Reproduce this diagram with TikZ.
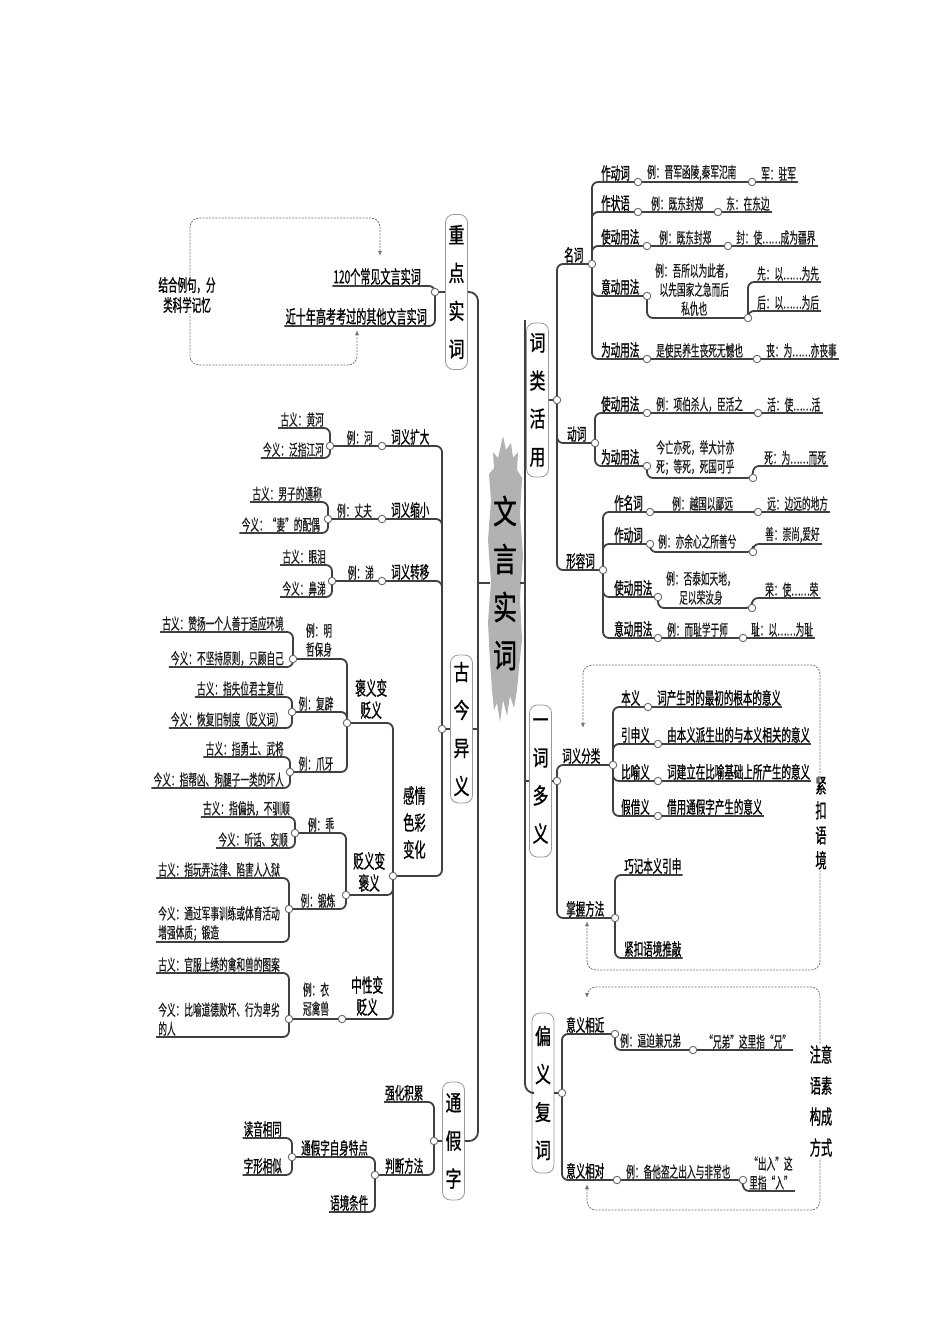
\documentclass[tikz,border=0pt]{standalone}
\usepackage{fontspec}
\setmainfont{Noto Sans CJK SC}
\newfontfamily\lblfont[FakeStretch=0.56, FakeBold=0.8]{Noto Sans CJK SC}
\newfontfamily\egfont[FakeStretch=0.56, FakeBold=0.4]{Noto Sans CJK SC}
\newfontfamily\bigfont[FakeStretch=0.72, FakeBold=1]{Noto Sans CJK SC}
\usetikzlibrary{arrows.meta}
\tikzset{
    ln/.style={draw=black!75, line width=1.8pt, rounded corners=6pt},
    dot/.style={circle, draw=black!60, fill=white, line width=0.9pt, inner sep=0pt, minimum size=7.5pt},
    lbl/.style={font=\lblfont\fontsize{17}{20}\selectfont, inner sep=1pt, anchor=south west},
    lblr/.style={lbl, anchor=south east},
    eg/.style={font=\egfont\fontsize{15.5}{19}\selectfont, inner sep=1pt, inner xsep=2pt, anchor=south west, align=center, text=black!90},
    egr/.style={eg, anchor=south east},
    egc/.style={eg, anchor=south},
    twoln/.style={font=\lblfont\fontsize{19}{22}\selectfont, inner sep=1pt, anchor=south west, align=center},
    catbox/.style={draw=black!40, line width=0.8pt, rounded corners=8pt, fill=white, minimum width=22pt, inner sep=0pt, font=\bigfont\fontsize{22}{38}\selectfont, align=center},
    hint/.style={fill=white, inner sep=1.5pt, align=center, font=\lblfont\fontsize{20}{25}\selectfont},
    lp/.style={draw=black!55, line width=0.8pt, dash pattern=on 2pt off 1.2pt, rounded corners=9pt, {Latex[length=5pt,width=4pt]}-{Latex[length=5pt,width=4pt]}},
}
\begin{document}
\begin{tikzpicture}[x=1pt, y=-1pt]
\useasboundingbox (0,0) rectangle (950,1344);
% brush behind the title
\fill[black!30] (503,436) -- (506,450) -- (511,443) -- (513,458) -- (518,452) -- (517,470) -- (522,478) -- (520,515) -- (523,555) -- (520,598) -- (522,640) -- (519,668) -- (517,690) -- (514,708) -- (510,696) -- (507,716) -- (503,700) -- (500,722) -- (497,703) -- (494,710) -- (492,690) -- (490,662) -- (488,622) -- (491,582) -- (488,540) -- (491,500) -- (489,474) -- (494,468) -- (493,452) -- (498,458) -- cycle;
\node[font=\bigfont\fontsize{33}{48}\selectfont, align=center, inner sep=0pt, minimum width=29pt] (wysc) at (505,583) {文\\言\\实\\词};

\node[catbox, minimum height=154pt] (clhy) at (537.5,400) {词\\类\\活\\用};
\node[catbox, minimum height=152pt] (ycdy) at (540.5,781) {一\\词\\多\\义};
\node[catbox, minimum height=160pt] (pyfc) at (543,1093) {偏\\义\\复\\词};
\node[catbox, minimum height=155pt] (zdsc) at (456.5,292) {重\\点\\实\\词};
\node[catbox, minimum height=148pt] (gjyy) at (461.5,729) {古\\今\\异\\义};
\node[catbox, minimum height=118pt] (tjz) at (453.5,1141) {通\\假\\字};

% trunks
\coordinate (lt) at (478,700);
\coordinate (rt) at (525,320);
\draw[ln, rounded corners=9pt] (zdsc.east) -| (lt) |- (tjz.east);
\draw[ln] (gjyy.east) -- (gjyy.east -| lt);
\draw[ln] (wysc.west) -- (wysc.west -| lt);
\draw[ln, rounded corners=9pt] (rt) |- (pyfc.west);
\draw[ln] (wysc.east) -- (wysc.east -| rt);
\draw[ln] (ycdy.west) -- (ycdy.west -| rt);

% 词类活用
\coordinate (cL) at (557,400);
\coordinate (mc) at (592,264);
\coordinate (dc) at (595,443);
\coordinate (xrc) at (603,570);
\coordinate (n1) at (638,182);  \coordinate (n1b) at (752,182);
\coordinate (n2) at (638,212);  \coordinate (n2b) at (718,212);
\coordinate (n3) at (647,246);  \coordinate (n3b) at (728,246);
\coordinate (n4) at (647,296);  \coordinate (n4b) at (748,318);
\coordinate (n5) at (647,359);  \coordinate (n5b) at (757,359);
\coordinate (v1) at (647,413);  \coordinate (v1b) at (758,413);
\coordinate (v2) at (647,466);  \coordinate (v2b) at (753,478);
\coordinate (a1) at (650,512);  \coordinate (a1b) at (758,512);
\coordinate (a2) at (650,544);  \coordinate (a2b) at (753,552);
\coordinate (a3) at (658,597);  \coordinate (a3b) at (752,608);
\coordinate (a4) at (658,638);  \coordinate (a4b) at (743,638);

\node[lbl] (mingci) at (563,264) {名词};
\node[lbl] (zdc) at (600,182) {作动词};
\node[eg] (e1) at (645,182) {例：晋军函陵,秦军氾南};
\node[eg] (r1) at (759,182) {军：驻军};
\node[lbl] (zzy) at (600,212) {作状语};
\node[eg] (e2) at (649,212) {例：既东封郑};
\node[eg] (r2) at (724,212) {东：在东边};
\node[lbl] (sdyf) at (600,246) {使动用法};
\node[eg] (e3) at (657,246) {例：既东封郑};
\node[eg] (r3) at (734,246) {封：使……成为疆界};
\node[lbl] (ydyf) at (600,296) {意动用法};
\node[eg] (e4) at (653,317) {例：吾所以为此者，\\以先国家之急而后\\私仇也};
\node[eg] (r4) at (755,282) {先：以……为先};
\node[eg] (r5) at (755,311) {后：以……为后};
\node[lbl] (wdyf) at (600,359) {为动用法};
\node[eg] (e5) at (654,359) {是使民养生丧死无憾也};
\node[eg] (r6) at (764,359) {丧：为……亦丧事};

\node[lbl] (dongci) at (566,443) {动词};
\node[lbl] (sdyf2) at (600,413) {使动用法};
\node[eg] (e6) at (654,413) {例：项伯杀人，臣活之};
\node[eg] (r7) at (765,413) {活：使……活};
\node[lbl] (wdyf2) at (600,466) {为动用法};
\node[eg] (e7) at (654,476) {今亡亦死，举大计亦\\死；等死，死国可乎};
\node[eg] (r8) at (762,466) {死：为……而死};

\node[lbl] (xrci) at (565,570) {形容词};
\node[lbl] (zmc) at (613,512) {作名词};
\node[eg] (e8) at (670,512) {例：越国以鄙远};
\node[eg] (r9) at (765,512) {远：边远的地方};
\node[lbl] (zdc2) at (613,544) {作动词};
\node[eg] (e9) at (656,550) {例：亦余心之所善兮};
\node[eg] (r10) at (763,544) {善：崇尚,爱好};
\node[lbl] (sdyf3) at (613,597) {使动用法};
\node[eg] (e10) at (664,606) {例：否泰如天地，\\足以荣汝身};
\node[eg] (r11) at (763,598) {荣：使……荣};
\node[lbl] (ydyf3) at (613,638) {意动用法};
\node[eg] (e11) at (665,638) {例：而耻学于师};
\node[eg] (r12) at (749,638) {耻：以……为耻};

\draw[ln] (clhy.east) -- (cL);
\draw[ln] (cL) |- (mc) (cL) |- (dc) (cL) |- (xrc);
\draw[ln] (mc) |- (n1) (mc) |- (n2) (mc) |- (n3) (mc) |- (n4) (mc) |- (n5);
\draw[ln] (n1) -- (n1b) -- (r1.south east);
\draw[ln] (n2) -- (n2b) -- (r2.south east);
\draw[ln] (n3) -- (n3b) -- (r3.south east);
\draw[ln] (n4) |- (n4b);
\draw[ln] (n4b) |- (r4.south east) (n4b) |- (r5.south east);
\draw[ln] (n5) -- (n5b) -- (r6.south east);
\draw[ln] (dc) |- (v1) (dc) |- (v2);
\draw[ln] (v1) -- (v1b) -- (r7.south east);
\draw[ln] (v2) |- (v2b) |- (r8.south east);
\draw[ln] (xrc) |- (a1) (xrc) |- (a2) (xrc) |- (a3) (xrc) |- (a4);
\draw[ln] (a1) -- (a1b) -- (r9.south east);
\draw[ln] (a2) |- (a2b) |- (r10.south east);
\draw[ln] (a3) |- (a3b) |- (r11.south east);
\draw[ln] (a4) -- (a4b) -- (r12.south east);

% 一词多义
\coordinate (cY) at (557,781);
\coordinate (cfl) at (613,765);
\coordinate (cff) at (615,918);
\coordinate (m1) at (648,707);
\coordinate (m2) at (658,744);
\coordinate (m3) at (658,781);
\coordinate (m4) at (658,816);
\node[lbl] (cyfl) at (561,765) {词义分类};
\node[lbl] (zwff) at (565,918) {掌握方法};
\node[lbl] (bny) at (620,707) {本义};
\node[lbl] (bnyr) at (656,707) {词产生时的最初的根本的意义};
\node[lbl] (ysy) at (620,744) {引申义};
\node[lbl] (ysyr) at (666,744) {由本义派生出的与本义相关的意义};
\node[lbl] (byy) at (620,781) {比喻义};
\node[lbl] (byyr) at (666,781) {词建立在比喻基础上所产生的意义};
\node[lbl] (jjy) at (620,816) {假借义};
\node[lbl] (jjyr) at (666,816) {借用通假字产生的意义};
\node[lbl] (qjby) at (623,875) {巧记本义引申};
\node[lbl] (jkyj) at (623,958) {紧扣语境推敲};
\draw[ln] (ycdy.east) -- (cY);
\draw[ln] (cY) |- (cfl) (cY) |- (cff);
\draw[ln] (cfl) |- (m1) (cfl) |- (m2) (cfl) |- (m3) (cfl) |- (m4);
\draw[ln] (m1) -- (bnyr.south east) (m2) -- (ysyr.south east) (m3) -- (byyr.south east) (m4) -- (jjyr.south east);
\draw[ln] (cff) |- (qjby.south east) (cff) |- (jkyj.south east);
\coordinate (q1) at (583,728);
\coordinate (q2) at (587,921);
\draw[lp] (q1) -- ++(0,-63) -| ++(237,305) -| (q2);
\node[hint] (jkyjh) at (821,823) {紧\\扣\\语\\境};

% 偏义复词
\coordinate (cP) at (562,1093);
\coordinate (p1) at (615,1034); \coordinate (p1b) at (693,1050);
\coordinate (p2) at (617,1180); \coordinate (p2b) at (743,1180);
\node[lbl] (yyxj) at (565,1034) {意义相近};
\node[eg] (e12) at (618,1049) {例：逼迫兼兄弟};
\node[eg] (r13) at (702,1050) {“兄弟”这里指“兄”};
\node[lbl] (yyxd) at (565,1180) {意义相对};
\node[eg] (e13) at (624,1180) {例：备他盗之出入与非常也};
\node[eg] (r14) at (747,1191) {“出入”这\\里指“入”};
\draw[ln] (pyfc.east) -- (cP);
\draw[ln] (cP) |- (p1) (cP) |- (p2);
\draw[ln] (p1) |- (p1b) -- (r13.south east);
\draw[ln] (p2) -- (p2b) |- (r14.south east);
\coordinate (q3) at (587,998);
\coordinate (q4) at (587,1184);
\draw[lp] (q3) -- ++(0,-11) -| ++(233,223) -| (q4);
\node[hint, font=\lblfont\fontsize{20}{31}\selectfont] (zyys) at (821,1101) {注意\\语素\\构成\\方式};

% 重点实词
\coordinate (cZ) at (435,292);
\node[lblr, font=\lblfont\fontsize{18}{20}\selectfont] (cj120) at (422,286) {120个常见文言实词};
\node[lblr, font=\lblfont\fontsize{18}{20}\selectfont] (jsn) at (428,326) {近十年高考考过的其他文言实词};
\draw[ln] (zdsc.west) -- (cZ);
\draw[ln] (cZ) |- (cj120.south west) (cZ) |- (jsn.south west);
\coordinate (q5) at (380,256);
\coordinate (q6) at (357,330);
\draw[lp] (q5) -- ++(0,-38) -| ++(-190,147) -| (q6);
\node[hint, font=\lblfont\fontsize{17}{20}\selectfont] (jhlj) at (187,295) {结合例句，分\\类科学记忆};

% 古今异义
\coordinate (cG) at (442,729);
\coordinate (g1) at (382,446); \coordinate (g1b) at (330,446);
\coordinate (g2) at (382,519); \coordinate (g2b) at (328,519);
\coordinate (g3) at (382,581); \coordinate (g3b) at (332,581);
\coordinate (g4) at (393,876);
\node[lbl] (kd) at (390,446) {词义扩大};
\node[egr] (e14) at (375,446) {例：河};
\node[egr] (gy1) at (326,428) {古义：黄河};
\node[egr] (jy1) at (326,458) {今义：泛指江河};
\node[lbl] (sx) at (390,519) {词义缩小};
\node[egr] (e15) at (374,519) {例：丈夫};
\node[egr] (gy2) at (324,502) {古义：男子的通称};
\node[egr] (jy2) at (322,533) {今义：“妻”的配偶};
\node[lbl] (zy) at (390,581) {词义转移};
\node[egr] (e16) at (376,581) {例：涕};
\node[egr] (gy3) at (328,565) {古义：眼泪};
\node[egr] (jy3) at (328,597) {今义：鼻涕};
\node[twoln, font=\lblfont\fontsize{20}{27}\selectfont] (gqsc) at (402,860) {感情\\色彩\\变化};
\draw[ln] (gjyy.west) -- (cG);
\draw[ln] (cG) |- (g1) (cG) |- (g2) (cG) |- (g3) (cG) |- (g4);
\draw[ln] (g1) -- (g1b) (g1b) |- (gy1.south west) (g1b) |- (jy1.south west);
\draw[ln] (g2) -- (g2b) (g2b) |- (gy2.south west) (g2b) |- (jy2.south west);
\draw[ln] (g3) -- (g3b) (g3b) |- (gy3.south west) (g3b) |- (jy3.south west);

\coordinate (b1) at (347,723);
\coordinate (b2) at (346,895);
\coordinate (b3) at (342,1019);
\node[twoln] (byb) at (354,720) {褒义变\\贬义};
\node[twoln] (bbb) at (352,893) {贬义变\\褒义};
\node[twoln] (zxb) at (350,1017) {中性变\\贬义};
\draw[ln] (g4) |- (b1) (g4) |- (b2) (g4) |- (b3);

\coordinate (k1) at (293,659);
\coordinate (k2) at (292,712);
\coordinate (k3) at (290,772);
\node[egc] (e17) at (319,658) {例：明\\哲保身};
\node[egc] (e18) at (316,712) {例：复辟};
\node[egc] (e19) at (316,772) {例：爪牙};
\node[egr] (gy4) at (286,632) {古义：赞扬一个人善于适应环境};
\node[egr] (jy4) at (286,667) {今义：不坚持原则，只顾自己};
\node[egr] (gy5) at (286,697) {古义：指失位君主复位};
\node[egr] (jy5) at (286,728) {今义：恢复旧制度（贬义词）};
\node[egr] (gy6) at (286,757) {古义：指勇士、武将};
\node[egr] (jy6) at (286,788) {今义：指帮凶、狗腿子一类的坏人};
\draw[ln] (b1) |- (k1) (b1) |- (k2) (b1) |- (k3);
\draw[ln] (k1) |- (gy4.south west) (k1) |- (jy4.south west);
\draw[ln] (k2) |- (gy5.south west) (k2) |- (jy5.south west);
\draw[ln] (k3) |- (gy6.south west) (k3) |- (jy6.south west);

\coordinate (k4) at (295,833);
\coordinate (k5) at (289,909);
\node[egc] (e20) at (321,833) {例：乖};
\node[egc] (e21) at (318,909) {例：锻炼};
\node[egr] (gy7) at (292,817) {古义：指偏执，不驯顺};
\node[egr] (jy7) at (290,848) {今义：听话、安顺};
\node[egr] (gy8) at (282,878) {古义：指玩弄法律、陷害人入狱};
\node[egr, align=left] (jy8) at (282,942) {今义：通过军事训练或体育活动\\增强体质；锻造};
\draw[ln] (b2) |- (k4) (b2) |- (k5);
\draw[ln] (k4) |- (gy7.south west) (k4) |- (jy7.south west);
\draw[ln] (k5) |- (gy8.south west) (k5) |- (jy8.south west);

\coordinate (k6) at (289,1019);
\node[egc] (e22) at (316,1017) {例：衣\\冠禽兽};
\node[egr] (gy9) at (282,973) {古义：官服上绣的禽和兽的图案};
\node[egr, align=left] (jy9) at (282,1037) {今义：比喻道德败坏、行为卑劣\\的人};
\draw[ln] (b3) -- (k6);
\draw[ln] (k6) |- (gy9.south west) (k6) |- (jy9.south west);

% 通假字
\coordinate (cT) at (434,1141);
\coordinate (t1) at (375,1175);
\coordinate (t2) at (292,1157);
\node[lbl] (qhjl) at (384,1102) {强化积累};
\node[lbl] (pdff) at (384,1175) {判断方法};
\node[lbl] (tzzs) at (300,1157) {通假字自身特点};
\node[lbl] (yjtj) at (329,1212) {语境条件};
\node[lblr] (dyxt) at (283,1138) {读音相同};
\node[lblr] (zxxs) at (283,1175) {字形相似};
\draw[ln] (tjz.west) -- (cT);
\draw[ln] (cT) |- (qhjl.south west) (cT) |- (t1);
\draw[ln] (t1) |- (t2) (t1) |- (yjtj.south west);
\draw[ln] (t2) |- (dyxt.south west) (t2) |- (zxxs.south west);

% junction circles
\foreach \c in {cL,mc,dc,xrc,n1,n1b,n2,n2b,n3,n3b,n4,n4b,n5,n5b,v1,v1b,v2,v2b,a1,a1b,a2,a2b,a3,a3b,a4,a4b,cY,cfl,cff,m1,m2,m3,m4,cP,p1,p1b,p2,p2b,cZ,cG,g1,g1b,g2,g2b,g3,g3b,g4,b1,b2,b3,k1,k2,k3,k4,k5,k6,cT,t1,t2}
    \node[dot] (d\c) at (\c) {};
\end{tikzpicture}
\end{document}
